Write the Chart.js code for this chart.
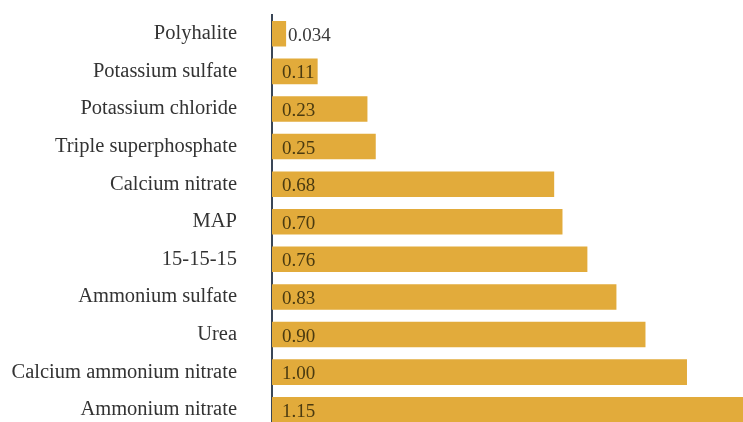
<!DOCTYPE html>
<html>
<head>
<meta charset="utf-8">
<script src="https://cdn.jsdelivr.net/npm/chart.js@4/dist/chart.umd.min.js"></script>
<style>
    html, body { margin: 0; padding: 0; background: #fff; overflow: hidden; }
</style>
</head>
<body>
<canvas id="barChart" width="743" height="440"></canvas>
<script>
// Datos del gráfico
const fertilizantes = [
    'Polyhalite',
    'Potassium sulfate',
    'Potassium chloride',
    'Triple superphosphate',
    'Calcium nitrate',
    'MAP',
    '15-15-15',
    'Ammonium sulfate',
    'Urea',
    'Calcium ammonium nitrate',
    'Ammonium nitrate'
];
const valores = [0.034, 0.11, 0.23, 0.25, 0.68, 0.70, 0.76, 0.83, 0.90, 1.00, 1.15];
const etiquetas = ['0.034', '0.11', '0.23', '0.25', '0.68', '0.70', '0.76', '0.83', '0.90', '1.00', '1.15'];

// Plugin para escribir los valores sobre las barras
const valorPlugin = {
    id: 'valores',
    afterDatasetsDraw(chart) {
        const ctx = chart.ctx;
        const meta = chart.getDatasetMeta(0);
        ctx.save();
        ctx.font = '19px "Liberation Serif", "Times New Roman", serif';
        ctx.textBaseline = 'middle';
        ctx.textAlign = 'left';
        meta.data.forEach((bar, i) => {
            const ancho = bar.x - bar.base;
            if (ancho < 30) {
                // barra corta: texto fuera
                ctx.fillStyle = '#3a3a3a';
                ctx.fillText(etiquetas[i], bar.x + 2, bar.y + 2);
            } else {
                ctx.fillStyle = '#4a3a10';
                ctx.fillText(etiquetas[i], bar.base + 10, bar.y + 2);
            }
        });
        ctx.restore();
    }
};

new Chart(document.getElementById('barChart'), {
    type: 'bar',
    data: {
        labels: fertilizantes,
        datasets: [{
            data: valores,
            backgroundColor: '#E2AB3B',
            borderWidth: 0,
            categoryPercentage: 1,
            barPercentage: 0.68
        }]
    },
    options: {
        indexAxis: 'y',
        responsive: false,
        animation: false,
        layout: {
            padding: { top: 15, bottom: 11.5, left: 0, right: 0 }
        },
        plugins: {
            legend: { display: false },
            tooltip: { enabled: false }
        },
        scales: {
            x: {
                display: false,
                min: 0,
                max: 1.135
            },
            y: {
                grid: { display: false, drawTicks: false },
                border: { display: true, color: '#3a4656', width: 2 },
                ticks: {
                    color: '#333',
                    padding: 35,
                    font: { family: '"Liberation Serif", "Times New Roman", serif', size: 20.5 }
                },
                afterFit(scale) {
                    // ancho fijo del eje y sin relleno vertical extra
                    scale.width = 272;
                    scale.paddingTop = 0;
                    scale.paddingBottom = 0;
                }
            }
        }
    },
    plugins: [valorPlugin]
});
</script>
</body>
</html>
